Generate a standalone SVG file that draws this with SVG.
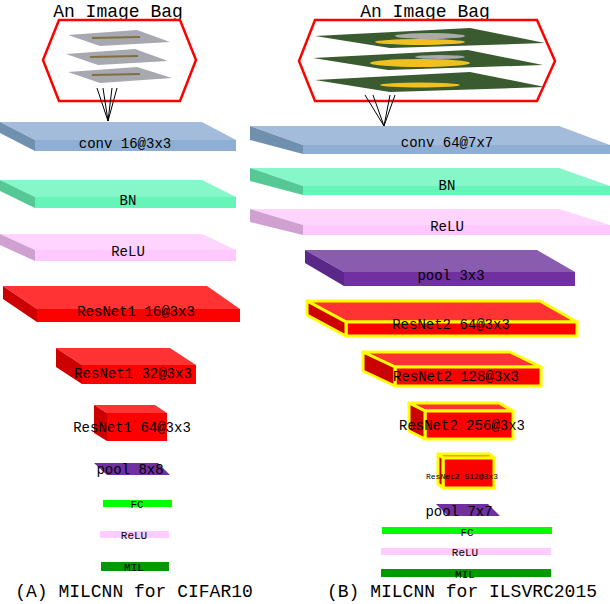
<svg xmlns="http://www.w3.org/2000/svg" width="610" height="604" viewBox="0 0 610 604">
<style>
text{font-family:"Liberation Mono","DejaVu Sans Mono",monospace;fill:#000;text-anchor:middle}
.l{font-size:14px}.s{font-size:11px}.t{font-size:18px}.c{font-size:18px}
.ct{fill:#a3bcdc}.cf{fill:#8eafd3}.cs{fill:#7090b0}
.bt{fill:#85f7c8}.bf{fill:#66f5b8}.bs{fill:#55c896}
.rt{fill:#ffd4ff}.rf{fill:#ffc8ff}.rs{fill:#d0a0d0}
.pt{fill:#8a5cb0}.pf{fill:#7030a0}.ps{fill:#5a2888}
.nt{fill:#ff3333}.nf{fill:#ff0000}.ns{fill:#cc0000}
.y{stroke:#ffff00;stroke-width:3;stroke-linejoin:round}
.hex{fill:none;stroke:#ff0000;stroke-width:2.5}
.ln{stroke:#000;stroke-width:1;fill:none}
</style>
<text class="t" x="118" y="17">An Image Bag</text>
<text class="t" x="425" y="17">An Image Bag</text>
<g id="bagA">
<polygon class="hex" points="59,20 180,20 196,60 180,101 59,101 43,60"/>
<g fill="#a8a8b0">
<polygon points="68,35 137,30 170,42 100,46"/>
<polygon points="66,54 135,49 168,61 98,65"/>
<polygon points="68,72 137,67 172,78 100,83"/>
</g>
<g stroke="#807040" stroke-width="2"><line x1="92" y1="38" x2="140" y2="37"/><line x1="90" y1="57" x2="138" y2="56"/><line x1="92" y1="75" x2="140" y2="74"/></g>
</g>
<g id="bagB">
<polygon class="hex" points="315,20 537,20 555,61 537,101 315,101 299,61"/>
<g fill="#3a5a30">
<polygon points="315,36 470,28 545,43 390,48"/>
<polygon points="313,58 468,50 543,65 388,70"/>
<polygon points="315,80 470,72 545,87 390,92"/>
</g>
<g fill="#f0c020"><ellipse cx="420" cy="42" rx="45" ry="3"/><ellipse cx="420" cy="63" rx="50" ry="4"/><ellipse cx="420" cy="85" rx="40" ry="2.5"/></g>
<g fill="#aaa"><ellipse cx="430" cy="36" rx="35" ry="3"/><ellipse cx="440" cy="57" rx="25" ry="2"/></g>
</g>
<g id="connectors" class="ln">
<polyline points="97,88 108,121 103,88"/><polyline points="112,88 108,121 117,88"/>
<polyline points="365,95 384,126 373,95"/><polyline points="390,95 384,126 395,95"/>
</g>
<g id="convA"><polygon class="ct" points="0,122 202,122 236,140 35,140"/><rect class="cf" x="35" y="140" width="201" height="11"/><polygon class="cs" points="0,122 35,140 35,151 0,133"/><text class="l" x="125" y="148">conv 16@3x3</text></g>
<g id="bnA"><polygon class="bt" points="0,180 202,180 236,197 35,197"/><rect class="bf" x="35" y="197" width="201" height="11"/><polygon class="bs" points="0,180 35,197 35,208 0,191"/><text class="l" x="128" y="205">BN</text></g>
<g id="reluA"><polygon class="rt" points="0,234 202,234 236,250 35,250"/><rect class="rf" x="35" y="250" width="201" height="11"/><polygon class="rs" points="0,234 35,250 35,261 0,245"/><text class="l" x="128" y="256">ReLU</text></g>
<g id="res16A"><polygon class="nt" points="3,286 207,286 240,309 37,309"/><rect class="nf" x="37" y="309" width="203" height="13"/><polygon class="ns" points="3,286 37,309 37,322 3,299"/><text class="l" x="136" y="316">ResNet1 16@3x3</text></g>
<g id="res32A"><polygon class="nt" points="56,348 170,348 196,365 82,365"/><rect class="nf" x="82" y="365" width="114" height="19"/><polygon class="ns" points="56,348 82,365 82,384 56,367"/><text class="l" x="133" y="378">ResNet1 32@3x3</text></g>
<g id="res64A"><polygon class="nt" points="94,405 155,405 167,413 107,413"/><rect class="nf" x="107" y="413" width="60" height="28"/><polygon class="ns" points="94,405 107,413 107,441 94,433"/><text class="l" x="132" y="432">ResNet1 64@3x3</text></g>
<g id="pool8A"><polygon class="pf" points="94,463 158,463 170,475 107,475"/><text class="l" x="130" y="474">pool 8x8</text></g>
<g id="fcA"><rect x="103" y="500" width="69" height="7" fill="#00ff00"/><text class="s" x="137" y="508">FC</text></g>
<g id="relu2A"><rect x="100" y="531" width="69" height="7" fill="#ffccff"/><text class="s" x="134" y="539">ReLU</text></g>
<g id="milA"><rect x="101" y="562" width="68" height="9" fill="#009900"/><text class="s" x="134" y="571">MIL</text></g>

<g id="convB"><polygon class="ct" points="250,126 559,126 610,145 303,145"/><rect class="cf" x="303" y="145" width="307" height="9"/><polygon class="cs" points="250,126 303,145 303,154 250,140"/><text class="l" x="447" y="147">conv 64@7x7</text></g>
<g id="bnB"><polygon class="bt" points="250,168 559,168 610,186 303,186"/><rect class="bf" x="303" y="186" width="307" height="9"/><polygon class="bs" points="250,168 303,186 303,195 250,181"/><text class="l" x="447" y="190">BN</text></g>
<g id="reluB"><polygon class="rt" points="250,209 559,209 610,225 303,225"/><rect class="rf" x="303" y="225" width="307" height="10"/><polygon class="rs" points="250,209 303,225 303,235 250,222"/><text class="l" x="447" y="231">ReLU</text></g>
<g id="pool3B"><polygon class="pt" points="305,250 537,250 575,272 344,272"/><rect class="pf" x="344" y="272" width="231" height="14"/><polygon class="ps" points="305,250 344,272 344,286 305,263"/><text class="l" x="451" y="280">pool 3x3</text></g>
<g id="res64B" class="y"><polygon class="nt" points="307,301 540,301 577,322 346,322"/><rect class="nf" x="346" y="322" width="231" height="14"/><polygon class="ns" points="307,301 346,322 346,336 307,315"/><text class="l" x="451" y="329" stroke="none">ResNet2 64@3x3</text></g>
<g id="res128B" class="y"><polygon class="nt" points="363,352 510,352 541,367 395,367"/><rect class="nf" x="395" y="367" width="146" height="19"/><polygon class="ns" points="363,352 395,367 395,386 363,371"/><text class="l" x="456" y="381" stroke="none">ResNet2 128@3x3</text></g>
<g id="res256B" class="y"><polygon class="nt" points="409,403 499,403 513,411 425,411"/><rect class="nf" x="425" y="411" width="88" height="28"/><polygon class="ns" points="409,403 425,411 425,439 409,431"/><text class="l" x="462" y="430" stroke="none">ResNet2 256@3x3</text></g>
<g id="res512B" class="y"><polygon class="nt" points="438,454 490,454 494,458 443,458"/><rect class="nf" x="443" y="458" width="51" height="30"/><polygon class="ns" points="438,454 443,458 443,488 438,484"/><text x="462" y="479" stroke="none" style="font-size:8px">ResNet2 512@3x3</text></g>
<g id="pool7B"><polygon class="pf" points="436,504 488,504 500,516 448,516"/><text class="l" x="459" y="516">pool 7x7</text></g>
<g id="fcB"><rect x="382" y="527" width="170" height="7" fill="#00ff00"/><text class="s" x="467" y="536">FC</text></g>
<g id="relu2B"><rect x="381" y="548" width="170" height="7" fill="#ffccff"/><text class="s" x="465" y="556">ReLU</text></g>
<g id="milB"><rect x="381" y="569" width="170" height="8" fill="#009900"/><text class="s" x="465" y="578">MIL</text></g>

<text class="c" x="134" y="597">(A) MILCNN for CIFAR10</text>
<text class="c" x="462" y="597">(B) MILCNN for ILSVRC2015</text>
</svg>
